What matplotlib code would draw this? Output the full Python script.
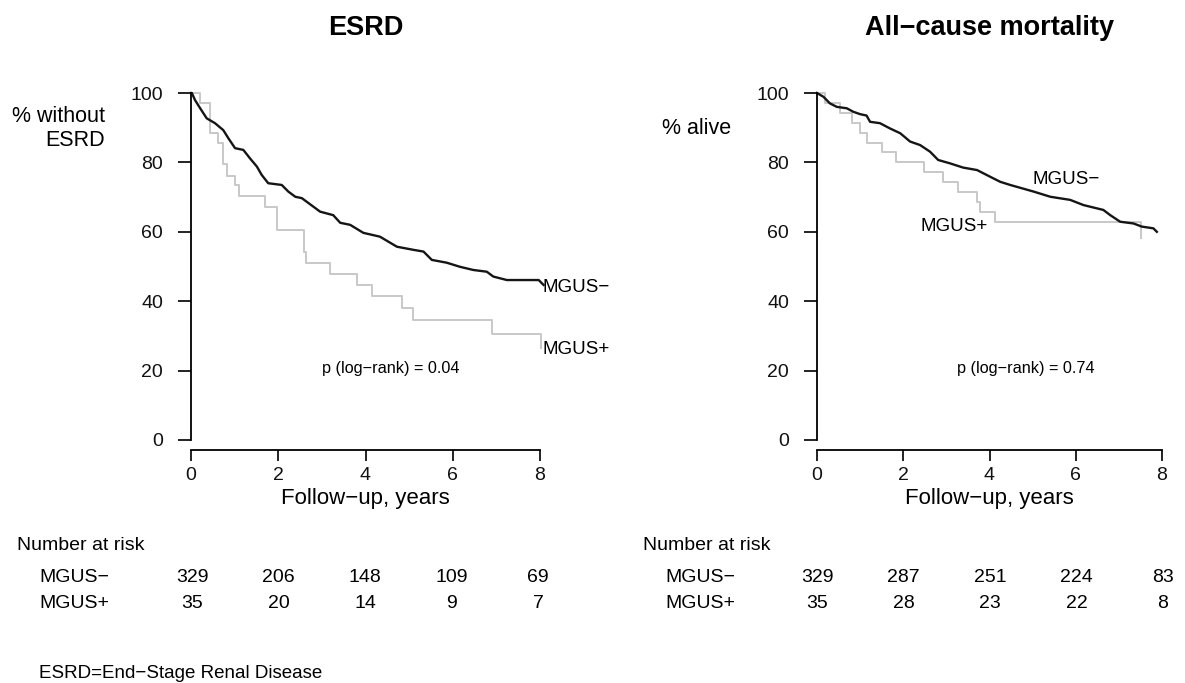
import numpy as np
import matplotlib.pyplot as plt

plt.rcParams['font.family'] = ['Liberation Sans', 'DejaVu Sans']

# ESRD panel (years, % without ESRD)
esrd_neg_t = [0, 0.02, 0.09, 0.21, 0.36, 0.55, 0.74, 0.86, 1.01, 1.2, 1.35, 1.51, 1.62, 1.77,
              2.08, 2.23, 2.39, 2.54, 2.81, 2.96, 3.26, 3.42, 3.65, 3.95, 4.33, 4.72, 5.10,
              5.33, 5.52, 5.86, 6.17, 6.47, 6.78, 6.93, 7.24, 7.97, 8.08]
esrd_neg_s = [100, 100, 98, 95.6, 92.7, 91.3, 89.3, 86.9, 84.1, 83.6, 81.2, 78.8, 76.4, 74,
              73.5, 71.6, 70.1, 69.7, 67.2, 65.8, 64.8, 62.6, 62, 59.7, 58.6, 55.7, 54.8,
              54.3, 51.9, 51.1, 49.9, 49.0, 48.5, 47.1, 46.1, 46.1, 44.7]
esrd_pos_t = [0, 0.21, 0.44, 0.63, 0.73, 0.82, 1.01, 1.09, 1.70, 1.98, 2.58, 2.64, 3.19,
              3.80, 4.14, 4.83, 5.10, 6.90, 8.02]
esrd_pos_s = [100, 97.1, 88.6, 85.5, 79.5, 76.2, 73.5, 70.4, 67.2, 60.5, 54.3, 51.1, 47.8,
              44.7, 41.5, 38.1, 34.6, 30.5, 26.4]

# all-cause mortality panel (years, % alive)
mort_neg_t = [0, 0.15, 0.30, 0.46, 0.69, 0.84, 1.0, 1.15, 1.23, 1.46, 1.69, 1.93, 2.16, 2.39,
              2.62, 2.81, 3.09, 3.39, 3.71, 4.01, 4.25, 4.48, 5.02, 5.41, 5.87, 6.18, 6.64,
              6.80, 7.03, 7.34, 7.53, 7.80, 7.88]
mort_neg_s = [100, 98.9, 97, 96, 95.6, 94.6, 93.9, 93.5, 91.7, 91.3, 89.8, 88.4, 86, 85,
              83.1, 80.7, 79.7, 78.5, 77.8, 75.9, 74.4, 73.5, 71.6, 70.1, 69.2, 67.7, 66.3,
              64.8, 62.9, 62.4, 61.5, 61, 60]
mort_pos_t = [0, 0.19, 0.53, 0.80, 1.0, 1.15, 1.50, 1.83, 2.47, 2.92, 3.26, 3.70, 3.78, 4.13,
              7.51]
mort_pos_s = [100, 97.1, 94.3, 91.4, 88.6, 85.7, 82.9, 80.0, 77.1, 74.3, 71.4, 68.6, 65.7,
              62.9, 58.1]

at_risk_years = [0, 2, 4, 6, 8]
esrd_risk_neg = [329, 206, 148, 109, 69]
esrd_risk_pos = [35, 20, 14, 9, 7]
mort_risk_neg = [329, 287, 251, 224, 83]
mort_risk_pos = [35, 28, 23, 22, 8]

W, H = 1185, 683
fig = plt.figure(figsize=(W / 100, H / 100), dpi=100)


def px(x, y):
    return x / W, 1 - y / H


def panel(left_px, right_px, title, ylabel, ylab_xy, neg, pos, p_text, p_xy, lab_neg, lab_pos):
    x0, _ = px(left_px, 0)
    ax = fig.add_axes([x0, 1 - 440 / H, (right_px - left_px) / W, 347 / H])
    ax.set_xlim(0, 8)
    ax.set_ylim(0, 100)
    ax.plot(pos[0], pos[1], drawstyle='steps-post', color='#c8c8c8', lw=1.4, clip_on=False)
    ax.plot(neg[0], neg[1], color='#151515', lw=1.7, clip_on=False)
    for s in ['top', 'right']:
        ax.spines[s].set_visible(False)
    ax.spines['bottom'].set_position(('outward', 7.2))
    ax.spines['left'].set_bounds(0, 100)
    ax.spines['bottom'].set_bounds(0, 8)
    for s in ['left', 'bottom']:
        ax.spines[s].set_linewidth(1.3)
    ax.set_xticks([0, 2, 4, 6, 8])
    ax.set_yticks([0, 20, 40, 60, 80, 100])
    ax.tick_params(direction='out', width=1.3, labelsize=14, colors='#111111')
    ax.tick_params(axis='x', length=8, pad=4)
    ax.tick_params(axis='y', length=9.5, pad=10.5)
    ax.set_xlabel('Follow\u2212up, years', fontsize=16, labelpad=3)
    ax.set_title(title, fontsize=19.5, fontweight='bold', pad=42)
    fig.text(*px(*ylab_xy), ylabel, ha='right', va='top', fontsize=15.5, linespacing=1.2)
    ax.text(p_xy[0], p_xy[1], p_text, ha='center', va='center', fontsize=11.7)
    ax.text(lab_neg[0], lab_neg[1], 'MGUS\u2212', ha=lab_neg[2], va='center', fontsize=13.5)
    ax.text(lab_pos[0], lab_pos[1], 'MGUS+', ha=lab_pos[2], va='center', fontsize=13.5)
    return ax


panel(191, 540, 'ESRD', '% without\nESRD', (105, 106), (esrd_neg_t, esrd_neg_s),
      (esrd_pos_t, esrd_pos_s), 'p (log\u2212rank) = 0.04', (4.58, 20.5),
      (8.05, 44, 'left'), (8.05, 26, 'left'))
panel(817, 1162, 'All\u2212cause mortality', '% alive', (731, 118), (mort_neg_t, mort_neg_s),
      (mort_pos_t, mort_pos_s), 'p (log\u2212rank) = 0.74', (4.85, 20.5),
      (5.0, 75, 'left'), (2.41, 61.5, 'left'))


def risk_table(x_title, x_name, x_first, rneg, rpos):
    fig.text(*px(x_title, 545), 'Number at risk', ha='left', va='center', fontsize=14)
    fig.text(*px(x_name, 578), 'MGUS\u2212', ha='left', va='center', fontsize=14)
    fig.text(*px(x_name, 603), 'MGUS+', ha='left', va='center', fontsize=14)
    for i, yr in enumerate(at_risk_years):
        xc = x_first + yr / 2 * 86.5
        fig.text(*px(xc, 578), str(rneg[i]), ha='center', va='center', fontsize=14)
        fig.text(*px(xc, 603), str(rpos[i]), ha='center', va='center', fontsize=14)


risk_table(17, 39, 192, esrd_risk_neg, esrd_risk_pos)
risk_table(643, 665, 817, mort_risk_neg, mort_risk_pos)

fig.text(*px(39, 674), 'ESRD=End\u2212Stage Renal Disease', ha='left', va='center', fontsize=13.5)

fig.savefig('out.png', dpi=100)
